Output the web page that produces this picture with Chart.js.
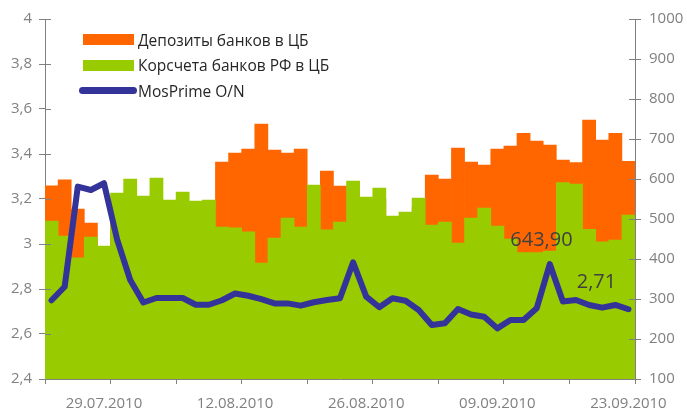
<!DOCTYPE html>
<html>
<head>
<meta charset="utf-8">
<script src="https://cdn.jsdelivr.net/npm/chart.js@4.4.1/dist/chart.umd.min.js"></script>
<style>
  body { margin: 0; background: #fff; }
  #wrap { position: relative; width: 687px; height: 415px; }
  #legend { position: absolute; left: 78px; top: 27px; font-family: 'Open Sans', sans-serif; font-size: 15.5px; color: #262626; }
  .item { display: flex; align-items: center; height: 25.5px; white-space: nowrap; }
  .box { width: 60px; display: flex; justify-content: center; }
  .sw { width: 51px; height: 11px; }
  .ln { width: 58px; height: 7px; border-radius: 4px; }
</style>
</head>
<body>
<div id="wrap">
  <canvas id="chart"></canvas>
  <div id="legend"></div>
</div>
<script>
// 45 working days, 23.07.2010 - 23.09.2010
const dates = [
  '23.07.2010', '26.07.2010', '27.07.2010', '28.07.2010', '29.07.2010', '30.07.2010',
  '02.08.2010', '03.08.2010', '04.08.2010', '05.08.2010', '06.08.2010',
  '09.08.2010', '10.08.2010', '11.08.2010', '12.08.2010', '13.08.2010',
  '16.08.2010', '17.08.2010', '18.08.2010', '19.08.2010', '20.08.2010',
  '23.08.2010', '24.08.2010', '25.08.2010', '26.08.2010', '27.08.2010',
  '30.08.2010', '31.08.2010', '01.09.2010', '02.09.2010', '03.09.2010',
  '06.09.2010', '07.09.2010', '08.09.2010', '09.09.2010', '10.09.2010',
  '13.09.2010', '14.09.2010', '15.09.2010', '16.09.2010', '17.09.2010',
  '20.09.2010', '21.09.2010', '22.09.2010', '23.09.2010'
];
const shownDates = ['29.07.2010', '12.08.2010', '26.08.2010', '09.09.2010', '23.09.2010'];

// right axis, bln rub
const deposits = [
  583, 598, 525, 490, 420, 520, 540, 500, 520, 510,
  530, 520, 530, 642, 665, 675, 737, 672, 665, 675,
  560, 620, 582, 570, 540, 550, 490, 500, 530, 610,
  600, 677, 642, 635, 675, 682, 714, 695, 685, 647,
  641, 747, 697, 714, 643.9
];
const corrAccounts = [
  495, 457, 403, 455, 432, 565, 600, 557, 602, 547,
  567, 545, 547, 480, 478, 468, 390, 452, 502, 480,
  585, 473, 492, 595, 555, 577, 507, 517, 552, 485,
  492, 440, 502, 527, 482, 450, 416, 416, 420, 591,
  587, 474, 443, 447, 510
];
// left axis, %
const mosprime = [
  2.75, 2.81, 3.255, 3.24, 3.27, 3.02, 2.84, 2.74, 2.76, 2.76,
  2.76, 2.73, 2.73, 2.75, 2.78, 2.77, 2.755, 2.736, 2.736, 2.726,
  2.741, 2.751, 2.759, 2.919, 2.766, 2.719, 2.759, 2.748, 2.707, 2.64,
  2.648, 2.711, 2.687, 2.677, 2.625, 2.662, 2.662, 2.714, 2.911, 2.744,
  2.751, 2.729, 2.717, 2.729, 2.71
];

const gray = '#808080';
const font = "'Open Sans', 'DejaVu Sans', sans-serif";
const comma = v => String(Math.round(v * 100) / 100).replace('.', ',');

// tick marks crossing the value axes (inner half)
const innerTicks = {
  id: 'innerTicks',
  afterDatasetsDraw(chart) {
    const ctx = chart.ctx;
    ctx.save();
    ctx.strokeStyle = gray;
    ctx.lineWidth = 1;
    ['y', 'y1'].forEach(id => {
      const s = chart.scales[id];
      const x = id === 'y' ? s.right : s.left;
      const dir = id === 'y' ? 1 : -1;
      s.ticks.forEach((t, i) => {
        const y = Math.round(s.getPixelForTick(i)) + 0.5;
        ctx.beginPath();
        ctx.moveTo(x, y);
        ctx.lineTo(x + dir * 6, y);
        ctx.stroke();
      });
    });
    ctx.restore();
  }
};

// value labels of the last points, moved like in the original
const lastLabels = {
  id: 'lastLabels',
  afterDatasetsDraw(chart, args, opts) {
    const ctx = chart.ctx;
    ctx.save();
    ctx.font = '20px ' + font;
    ctx.fillStyle = '#404040';
    ctx.textAlign = 'center';
    ctx.textBaseline = 'middle';
    opts.items.forEach(it => {
      const ds = chart.data.datasets[it.dataset];
      const i = ds.data.length - 1;
      const el = chart.getDatasetMeta(it.dataset).data[i];
      ctx.fillText(ds.data[i].toFixed(2).replace('.', ','), el.x + it.dx, el.y + it.dy);
    });
    ctx.restore();
  }
};

const ctx = document.getElementById('chart').getContext('2d');
const chart = new Chart(ctx, {
  type: 'bar',
  plugins: [innerTicks, lastLabels],
  data: {
    labels: dates,
    datasets: [
      {
        label: 'Депозиты банков в ЦБ',
        data: deposits,
        backgroundColor: '#FF6600',
        yAxisID: 'y1',
        grouped: false,
        barPercentage: 1,
        categoryPercentage: 1,
        order: 3
      },
      {
        label: 'Корсчета банков РФ в ЦБ',
        data: corrAccounts,
        backgroundColor: '#99CC00',
        yAxisID: 'y1',
        grouped: false,
        barPercentage: 1,
        categoryPercentage: 1,
        order: 2
      },
      {
        type: 'line',
        label: 'MosPrime O/N',
        data: mosprime,
        borderColor: '#333399',
        backgroundColor: '#333399',
        borderWidth: 6,
        borderJoinStyle: 'round',
        borderCapStyle: 'round',
        pointRadius: 0,
        tension: 0,
        yAxisID: 'y',
        order: 1
      }
    ]
  },
  options: {
    responsive: true,
    maintainAspectRatio: false,
    animation: false,
    layout: { padding: { top: 19, left: 0, right: 0, bottom: 0 } },
    scales: {
      x: {
        offset: true,
        grid: {
          offset: true,
          drawOnChartArea: false,
          tickLength: 5,
          color: c => (c.index === undefined || c.index % 5 === 0) ? gray : 'rgba(0,0,0,0)',
          tickColor: c => (c.index === undefined || c.index % 5 === 0) ? gray : 'rgba(0,0,0,0)'
        },
        border: { display: true, color: gray },
        ticks: {
          autoSkip: false,
          maxRotation: 0,
          minRotation: 0,
          padding: 11,
          color: gray,
          font: { family: font, size: 15 },
          callback: function(value, index) {
            const d = this.getLabelForValue(value);
            return shownDates.includes(d) ? d : '';
          }
        },
        afterFit: s => { s.height = 36; }
      },
      y: {
        position: 'left',
        min: 2.4,
        max: 4,
        grid: { drawOnChartArea: false, tickLength: 6, color: gray },
        border: { display: true, color: gray },
        ticks: {
          stepSize: 0.2,
          padding: 7,
          color: gray,
          font: { family: font, size: 15 },
          callback: v => comma(v)
        },
        afterFit: s => { s.width = 45; }
      },
      y1: {
        position: 'right',
        min: 100,
        max: 1000,
        grid: { drawOnChartArea: false, tickLength: 6, color: gray },
        border: { display: true, color: gray },
        ticks: {
          stepSize: 100,
          padding: 8,
          color: gray,
          font: { family: font, size: 15 },
          callback: v => String(v)
        },
        afterFit: s => { s.width = 52; }
      }
    },
    plugins: {
      legend: { display: false },
      tooltip: { enabled: false },
      lastLabels: {
        items: [
          { dataset: 0, dx: -87, dy: 79 },
          { dataset: 2, dx: -32, dy: -27 }
        ]
      }
    }
  }
});

// legend inside the plot, as in the original
const legend = document.getElementById('legend');
chart.data.datasets.forEach(ds => {
  const item = document.createElement('div');
  item.className = 'item';
  const box = document.createElement('div');
  box.className = 'box';
  const sw = document.createElement('div');
  sw.className = ds.type === 'line' ? 'ln' : 'sw';
  sw.style.background = ds.type === 'line' ? ds.borderColor : ds.backgroundColor;
  box.appendChild(sw);
  const txt = document.createElement('span');
  txt.textContent = ds.label;
  item.appendChild(box);
  item.appendChild(txt);
  legend.appendChild(item);
});
</script>
</body>
</html>
